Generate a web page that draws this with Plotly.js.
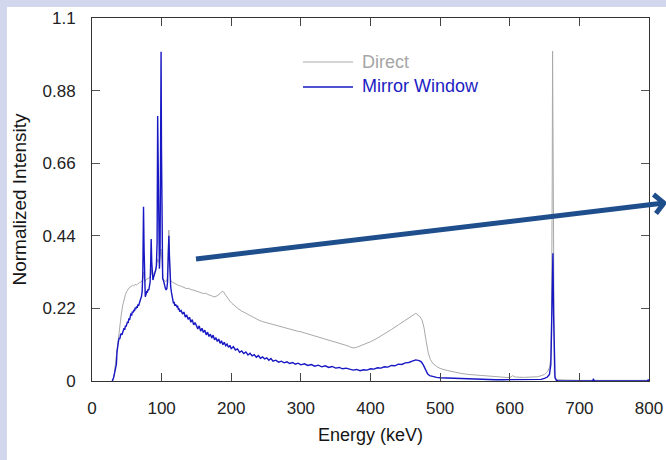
<!DOCTYPE html>
<html>
<head>
<meta charset="utf-8">
<script src="https://cdn.plot.ly/plotly-3.0.1.min.js"></script>
<style>
  html, body { margin:0; padding:0; }
  body { width:666px; height:460px; background:#d3d7ee; position:relative; overflow:hidden; }
  #sheet { position:absolute; left:7px; top:7px; width:659px; height:453px; background:#ffffff; }
  #chart { position:absolute; left:0; top:0; width:666px; height:460px; }
</style>
</head>
<body>
<div id="sheet"></div>
<div id="chart"></div>
<script>
// ---- data ----
const energyDirect = [30,32,34,36,38,40,42,44,46,48,50,52,54,56,58,60,62,64,66,68,70,72,73,74,75,76,78,80,82,84,85,86,88,90,92,93.5,94.3,95.5,97,99.2,100.6,102,104,106,108,110.4,111.5,113,115,118,121,124,127,130,133,136,139,142,145,148,151,154,157,160,163,166,169,172,175,178,181,184,187,189,192,195,198,201,205,210,215,220,225,230,235,240,245,250,255,260,265,270,275,280,285,290,295,300,310,320,330,340,350,360,365,370,375,380,385,390,395,400,410,420,430,440,450,455,460,465,468,471,474,477,480,483,486,490,495,500,510,520,530,540,550,560,570,580,590,600,604,608,620,630,640,645,650,654,657,659,660,661,661.5,662.5,663,664,666,670,680,700,750,800];
const direct = [0,0.02,0.06,0.1,0.134,0.17,0.2,0.228,0.25,0.262,0.272,0.278,0.284,0.286,0.29,0.288,0.293,0.291,0.296,0.298,0.3,0.303,0.31,0.33,0.31,0.302,0.308,0.31,0.312,0.318,0.34,0.322,0.326,0.33,0.34,0.355,0.37,0.36,0.365,0.4,0.34,0.31,0.305,0.3,0.31,0.457,0.36,0.305,0.3,0.296,0.293,0.29,0.288,0.285,0.284,0.28,0.281,0.277,0.276,0.274,0.272,0.27,0.268,0.265,0.266,0.262,0.26,0.258,0.255,0.256,0.26,0.265,0.272,0.27,0.26,0.25,0.242,0.235,0.227,0.219,0.212,0.206,0.2,0.194,0.189,0.184,0.18,0.177,0.173,0.17,0.167,0.164,0.161,0.158,0.156,0.153,0.151,0.149,0.143,0.137,0.131,0.125,0.119,0.112,0.108,0.104,0.1,0.102,0.106,0.11,0.114,0.119,0.13,0.142,0.156,0.17,0.185,0.192,0.2,0.205,0.2,0.195,0.185,0.16,0.12,0.085,0.065,0.052,0.044,0.038,0.032,0.027,0.023,0.02,0.018,0.016,0.014,0.012,0.011,0.01,0.016,0.012,0.011,0.011,0.013,0.016,0.02,0.028,0.04,0.07,0.2,0.6,1.0,0.6,0.15,0.02,0.006,0.004,0.003,0.002,0.002,0.002];

const energyMirror = [29,31,33,35,36,37,38,39,40,41,42,43,44,45,46,47,48,49,50,51,52,53,54,55,56,57,58,59,60,61,62,63,64,65,66,67,68,69,70,71,72,73,74,74.8,75.5,76.5,77.5,78.5,79.5,80.5,81.5,82.5,83.5,84.3,85,85.8,86.6,87.5,88.5,89.5,90.5,91.5,92.5,93.5,94.3,95,95.8,96.8,97.8,98.6,99.2,99.8,100.6,101.5,102.5,103.5,104.5,105.5,106.5,107.5,108.5,109.5,110.4,111.2,112,113,114,115,116,117,118,119,120,121,122,123,124,125,126,
  128,130,132,134,136,138,140,142,144,146,148,150,152,154,156,158,160,162,164,166,168,170,172,174,176,178,180,182,184,186,188,190,192,194,196,198,200,
  203,206,209,212,215,218,221,224,227,230,233,236,239,242,245,248,251,254,257,260,
  264,268,272,276,280,284,288,292,296,300,
  305,310,315,320,325,330,335,340,345,350,355,360,365,370,375,380,385,390,395,400,405,410,415,420,425,430,435,440,445,450,455,460,465,470,
  473,476,479,482,485,490,495,500,510,520,530,540,550,560,570,580,590,600,610,620,630,640,645,650,654,657,659,660,661,662,663,664,665,667,670,700,719,720,721,722,760,798,799,800];
const mirror = [0,0.01,0.03,0.05,0.09,0.114,0.12,0.13,0.128,0.14,0.144,0.14,0.15,0.152,0.16,0.155,0.168,0.165,0.172,0.18,0.176,0.19,0.185,0.2,0.205,0.198,0.21,0.207,0.215,0.212,0.222,0.218,0.226,0.222,0.232,0.228,0.238,0.242,0.25,0.255,0.27,0.33,0.528,0.4,0.28,0.255,0.262,0.27,0.268,0.278,0.275,0.29,0.3,0.36,0.43,0.36,0.31,0.306,0.315,0.32,0.33,0.336,0.35,0.42,0.803,0.6,0.36,0.34,0.4,0.8,0.998,0.7,0.33,0.31,0.306,0.295,0.286,0.28,0.276,0.28,0.3,0.38,0.44,0.38,0.3,0.286,0.27,0.255,0.24,0.235,0.24,0.228,0.232,0.23,0.225,0.228,0.216,0.22,0.21,
  0.214,0.203,0.209,0.194,0.2,0.187,0.193,0.178,0.186,0.17,0.177,0.166,0.158,0.167,0.151,0.16,0.147,0.154,0.14,0.148,0.135,0.142,0.13,0.139,0.125,0.131,0.12,0.127,0.114,0.122,0.11,0.117,0.107,0.112,0.102,0.108,0.098,
  0.104,0.094,0.097,0.087,0.091,0.083,0.088,0.079,0.084,0.076,0.08,0.072,0.077,0.069,0.073,0.067,0.07,0.063,0.068,0.06,
  0.063,0.057,0.06,0.055,0.058,0.053,0.056,0.051,0.054,0.049,
  0.052,0.047,0.05,0.045,0.048,0.043,0.046,0.041,0.044,0.039,0.041,0.037,0.039,0.035,0.033,0.035,0.031,0.034,0.033,0.037,0.036,0.04,0.039,0.043,0.042,0.047,0.046,0.051,0.05,0.055,0.056,0.06,0.064,0.062,
  0.058,0.048,0.033,0.022,0.016,0.013,0.011,0.01,0.009,0.008,0.007,0.006,0.006,0.005,0.005,0.004,0.004,0.004,0.004,0.003,0.004,0.004,0.005,0.008,0.012,0.02,0.05,0.15,0.3,0.387,0.2,0.05,0.01,0.002,0,0,0,0.005,0.003,0,0,0,0.004,0];

const xTicks = [0,100,200,300,400,500,600,700,800];
const yTicks = [0,0.22,0.44,0.66,0.88,1.1];
const yTickText = ['0','0.22','0.44','0.66','0.88','1.1'];
const seriesNames = ['Direct','Mirror Window'];
const seriesColors = ['#a9a9a9','#1717c4'];

// ---- layout helpers (pixel -> paper) ----
const W = 666, H = 460, L = 92, R = 17, T = 18, B = 79;
const pw = W - L - R, ph = H - T - B;
const px = v => (v - L) / pw;
const py = v => (H - B - v) / ph;

const traces = [
  { x: energyDirect, y: direct, type: 'scatter', mode: 'lines', name: seriesNames[0],
    line: { color: seriesColors[0], width: 1 }, showlegend: false },
  { x: energyMirror, y: mirror, type: 'scatter', mode: 'lines', name: seriesNames[1],
    line: { color: seriesColors[1], width: 1.4 }, showlegend: false }
];

const font = 'Liberation Sans, Arial, sans-serif';
const arrowColor = '#1f4e8c';

const layout = {
  width: W, height: H,
  margin: { l: L, r: R, t: T, b: B, pad: 0 },
  paper_bgcolor: 'rgba(0,0,0,0)',
  plot_bgcolor: '#ffffff',
  font: { family: font, size: 17, color: '#222' },
  xaxis: {
    range: [0, 800], tickvals: xTicks, ticks: 'inside', ticklen: 8, tickcolor: '#444',
    showline: true, linecolor: '#333', linewidth: 1, mirror: 'ticks', showgrid: false, zeroline: false,
    tickfont: { family: font, size: 17, color: '#222' }, ticklabelstandoff: 12,
    title: { text: 'Energy (keV)', font: { family: font, size: 18, color: '#151515' }, standoff: 10 },
    automargin: false
  },
  yaxis: {
    range: [0, 1.1], tickvals: yTicks, ticktext: yTickText, ticks: 'inside', ticklen: 8, tickcolor: '#555',
    showline: true, linecolor: '#333', linewidth: 1, mirror: 'ticks', showgrid: false, zeroline: false,
    tickfont: { family: font, size: 17, color: '#222' }, ticklabelstandoff: 12,
    title: { text: 'Normalized Intensity', font: { family: font, size: 19, color: '#151515' }, standoff: 10 },
    automargin: false
  },
  shapes: [
    { type: 'line', xref: 'paper', yref: 'paper', x0: px(303), x1: px(353), y0: py(62), y1: py(62),
      line: { color: seriesColors[0], width: 1 } },
    { type: 'line', xref: 'paper', yref: 'paper', x0: px(303), x1: px(353), y0: py(87), y1: py(87),
      line: { color: seriesColors[1], width: 1.4 } },
    { type: 'line', xref: 'paper', yref: 'paper', x0: px(196), y0: py(259), x1: px(662), y1: py(203.3),
      line: { color: arrowColor, width: 5 } },
    { type: 'path', xref: 'paper', yref: 'paper',
      path: 'M' + px(653.5) + ',' + py(194.5) + ' L' + px(664) + ',' + py(203) + ' L' + px(656) + ',' + py(213.5),
      line: { color: arrowColor, width: 5 } }
  ],
  annotations: [
    { xref: 'paper', yref: 'paper', x: px(360), y: py(62), xanchor: 'left', yanchor: 'middle', showarrow: false,
      text: seriesNames[0], font: { family: font, size: 18, color: '#a6a6a6' } },
    { xref: 'paper', yref: 'paper', x: px(360), y: py(86.5), xanchor: 'left', yanchor: 'middle', showarrow: false,
      text: seriesNames[1], font: { family: font, size: 18, color: '#1c1cc4' } }
  ]
};

Plotly.newPlot('chart', traces, layout, { staticPlot: true, displayModeBar: false });
</script>
</body>
</html>
